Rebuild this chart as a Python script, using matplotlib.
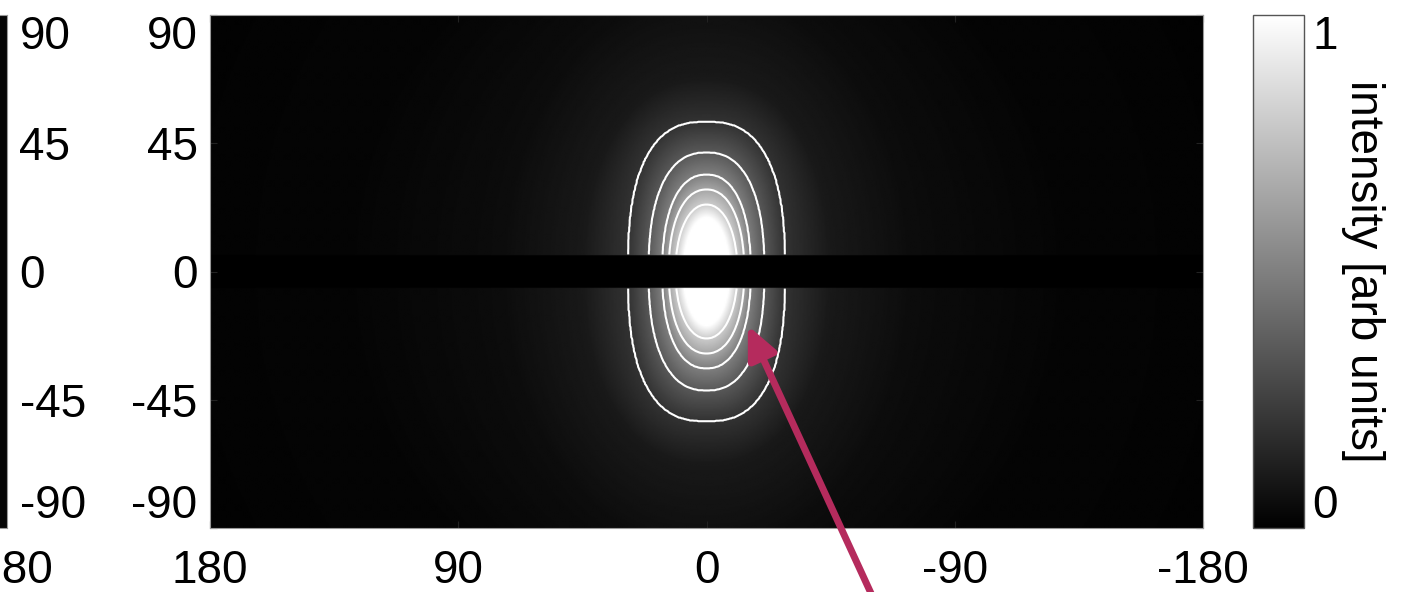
import numpy as np
import matplotlib
matplotlib.use("Agg")
import matplotlib.pyplot as plt

plt.rcParams["font.family"] = ["Liberation Sans", "DejaVu Sans"]
plt.rcParams["axes.unicode_minus"] = False

# ================= DATA =================
lon_ticks = [180, 90, 0, -90, -180]
lat_ticks = [-90, -45, 0, 45, 90]
contour_levels = [0.2, 0.35, 0.5, 0.65, 0.8]

# intensity level -> half width / half height (deg) of that iso-line
prof_level = [0.0, 0.02, 0.05, 0.1, 0.2, 0.35, 0.5, 0.65, 0.8, 1.0, 1.6]
prof_halfwidth = [300, 130, 75, 45, 28.5, 21.0, 16.0, 13.7, 11.2, 8.5, 0.5]
prof_halfheight = [300, 130, 100, 68, 52.6, 41.8, 34.0, 28.8, 23.5, 19.0, 0.5]
prof_power = [2.0, 2.0, 2.0, 2.2, 2.6, 2.4, 2.3, 2.2, 2.1, 2.0, 2.0]

band_halfwidth = 6.0      # blanked latitude band (deg)
left_panel_level = 0.02   # neighbouring panel, only its edge is visible

# ================= FIELD =================
lon = np.linspace(-180, 180, 721)
lat = np.linspace(-90, 90, 361)
LON, LAT = np.meshgrid(lon, lat)

fine = np.linspace(prof_level[0], prof_level[-1], 600)
a_f = np.interp(fine, prof_level, prof_halfwidth)
b_f = np.interp(fine, prof_level, prof_halfheight)
n_f = np.interp(fine, prof_level, prof_power)

Z = np.zeros(LON.shape)
for L, a, b, n in zip(fine, a_f, b_f, n_f):
    inside = (np.abs(LON) / a) ** n + (np.abs(LAT) / b) ** n < 1
    Z[inside] = L

band = np.abs(LAT) < band_halfwidth
Zimg = np.where(band, 0.0, Z)
Zcnt = np.ma.masked_where(band, Z)

# ================= FIGURE =================
W, H = 1413, 592
fig = plt.figure(figsize=(W / 100, H / 100), dpi=100)

ax_left, ax_top, ax_w, ax_h = 210, 15, 993, 513
pos = [ax_left / W, 1 - (ax_top + ax_h) / H, ax_w / W, ax_h / H]
FS = 33

# neighbouring panel (cut off on the left)
axL = fig.add_axes([(7 - ax_w) / W, pos[1], ax_w / W, pos[3]])
axL.imshow(np.full((10, 10), left_panel_level), cmap="gray", vmin=0, vmax=1,
           extent=[-180, 180, -90, 90], aspect="auto")
axL.set_xlim(180, -180)
axL.set_ylim(-90, 90)
axL.yaxis.tick_right()
axL.set_yticks(lat_ticks)
axL.set_yticklabels([str(v) for v in lat_ticks])
axL.set_xticks(lon_ticks)
axL.set_xticklabels([str(v) for v in lon_ticks])
axL.tick_params(direction="in", length=0, labelsize=FS, pad=9)
axL.tick_params(axis="x", pad=15)
for s in axL.spines.values():
    s.set_color("#999999")

# main panel
ax = fig.add_axes(pos)
im = ax.imshow(Zimg, cmap="gray", vmin=0, vmax=1, origin="lower",
               extent=[-180, 180, -90, 90], aspect="auto", interpolation="bilinear")
ax.contour(lon, lat, Zcnt, levels=contour_levels, colors="white", linewidths=1.5)
ax.set_xlim(180, -180)
ax.set_ylim(-90, 90)
ax.set_xticks(lon_ticks)
ax.set_yticks(lat_ticks)
ax.set_xticklabels([str(v) for v in lon_ticks])
ax.set_yticklabels([str(v) for v in lat_ticks])
ax.tick_params(direction="in", length=5, color="#222222", labelsize=FS,
               top=True, right=True)
ax.tick_params(axis="y", pad=9)
ax.tick_params(axis="x", pad=15)
for s in ax.spines.values():
    s.set_color("#999999")

for a_ in (ax, axL):
    lbls = a_.get_yticklabels()
    lbls[0].set_verticalalignment("bottom")
    lbls[-1].set_verticalalignment("top")

# colorbar
cax = fig.add_axes([1253 / W, pos[1], 51 / W, pos[3]])
cb = fig.colorbar(im, cax=cax, ticks=[0, 1])
cb.ax.tick_params(length=0, labelsize=FS, pad=6)
cb.outline.set_edgecolor("#555555")
cb.outline.set_linewidth(1)
cl = cb.ax.get_yticklabels()
cl[0].set_verticalalignment("bottom")
cl[-1].set_verticalalignment("top")
cb.set_label("intensity [arb units]", rotation=270, fontsize=FS, labelpad=34)

# arrow pointing at the contours
ax.annotate("", xy=(-15, -19), xycoords="data",
            xytext=(875 / W, -10 / H), textcoords="figure fraction",
            arrowprops=dict(arrowstyle="-|>,head_length=0.65,head_width=0.3",
                            color="#B52B5D", lw=5, mutation_scale=30,
                            shrinkA=0, shrinkB=0),
            annotation_clip=False)

fig.savefig("out.png", dpi=100)
